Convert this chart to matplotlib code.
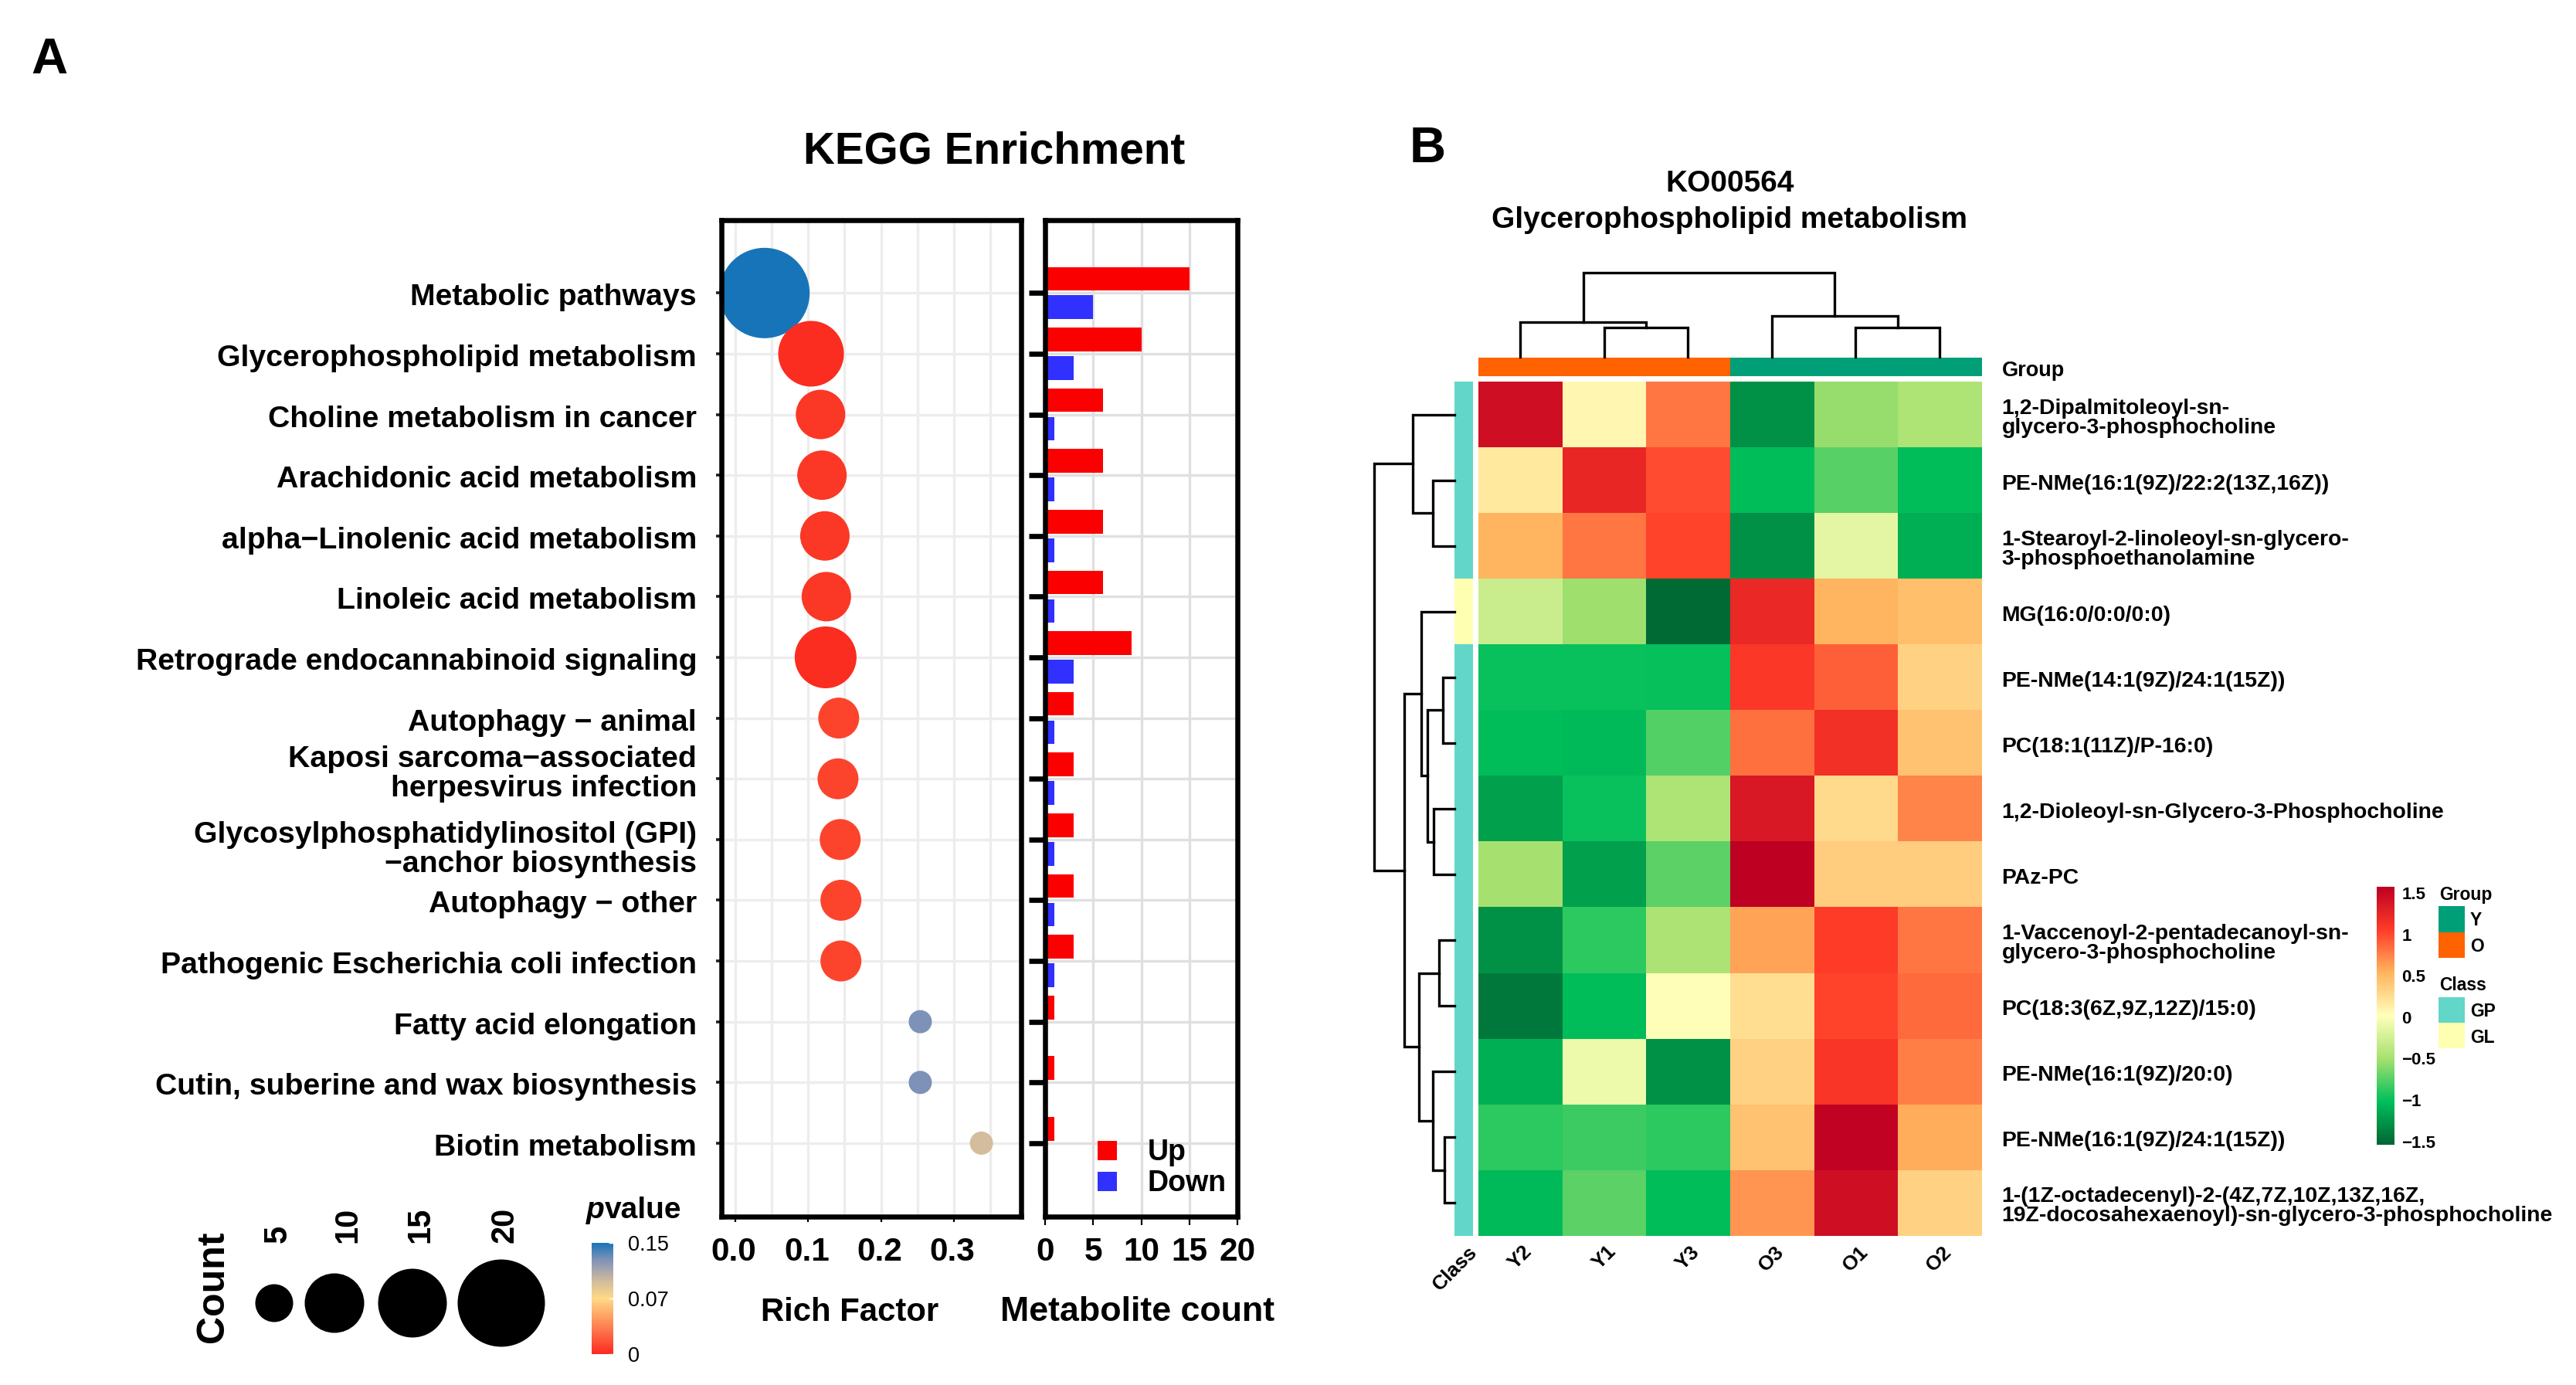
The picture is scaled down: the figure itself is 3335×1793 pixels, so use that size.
import numpy as np
import matplotlib
matplotlib.use("Agg")
import matplotlib.pyplot as plt
from matplotlib.colors import LinearSegmentedColormap, ListedColormap, Normalize
from matplotlib.cm import ScalarMappable
from matplotlib.patches import Rectangle
from matplotlib.transforms import ScaledTranslation

W, H = 3335, 1793

# --- panel A data
pathways = ['Metabolic pathways', 'Glycerophospholipid metabolism', 'Choline metabolism in cancer',
            'Arachidonic acid metabolism', 'alpha\u2212Linolenic acid metabolism', 'Linoleic acid metabolism',
            'Retrograde endocannabinoid signaling', 'Autophagy \u2212 animal',
            'Kaposi sarcoma\u2212associated\nherpesvirus infection',
            'Glycosylphosphatidylinositol (GPI)\n\u2212anchor biosynthesis', 'Autophagy \u2212 other',
            'Pathogenic Escherichia coli infection', 'Fatty acid elongation',
            'Cutin, suberine and wax biosynthesis', 'Biotin metabolism']
rich_factor = [0.040, 0.104, 0.117, 0.119, 0.123, 0.125, 0.124, 0.142, 0.141, 0.144, 0.145, 0.145, 0.254, 0.254, 0.338]
pvalue = [0.14, 0.001, 0.005, 0.005, 0.005, 0.005, 0.001, 0.01, 0.01, 0.01, 0.01, 0.01, 0.119, 0.119, 0.091]
up_count = [15, 10, 6, 6, 6, 6, 9, 3, 3, 3, 3, 3, 1, 1, 1]
down_count = [5, 3, 1, 1, 1, 1, 3, 1, 1, 1, 1, 1, 0, 0, 0]
rich_ticks = [0.0, 0.1, 0.2, 0.3]
count_ticks = [0, 5, 10, 15, 20]
legend_counts = [5, 10, 15, 20]

# --- panel B data
samples = ['Y2', 'Y1', 'Y3', 'O3', 'O1', 'O2']
metabolites = ['1,2-Dipalmitoleoyl-sn-\nglycero-3-phosphocholine', 'PE-NMe(16:1(9Z)/22:2(13Z,16Z))',
               '1-Stearoyl-2-linoleoyl-sn-glycero-\n3-phosphoethanolamine', 'MG(16:0/0:0/0:0)',
               'PE-NMe(14:1(9Z)/24:1(15Z))', 'PC(18:1(11Z)/P-16:0)', '1,2-Dioleoyl-sn-Glycero-3-Phosphocholine',
               'PAz-PC', '1-Vaccenoyl-2-pentadecanoyl-sn-\nglycero-3-phosphocholine', 'PC(18:3(6Z,9Z,12Z)/15:0)',
               'PE-NMe(16:1(9Z)/20:0)', 'PE-NMe(16:1(9Z)/24:1(15Z))',
               '1-(1Z-octadecenyl)-2-(4Z,7Z,10Z,13Z,16Z,\n19Z-docosahexaenoyl)-sn-glycero-3-phosphocholine']
heat_values = [
    [1.37, 0.05, 0.75, -1.25, -0.55, -0.45],
    [0.15, 1.17, 0.93, -1.00, -0.73, -1.00],
    [0.50, 0.75, 0.97, -1.25, -0.15, -1.08],
    [-0.30, -0.52, -1.47, 1.15, 0.50, 0.43],
    [-0.97, -0.97, -0.98, 1.03, 0.85, 0.30],
    [-1.00, -1.02, -0.74, 0.78, 1.10, 0.40],
    [-1.17, -0.97, -0.45, 1.30, 0.25, 0.70],
    [-0.50, -1.17, -0.72, 1.50, 0.33, 0.33],
    [-1.25, -0.86, -0.46, 0.57, 1.00, 0.75],
    [-1.39, -1.00, 0.00, 0.22, 0.97, 0.80],
    [-1.08, -0.10, -1.25, 0.30, 1.05, 0.72],
    [-0.86, -0.81, -0.86, 0.40, 1.47, 0.53],
    [-1.02, -0.72, -1.00, 0.63, 1.36, 0.30],
]
column_group = [1, 1, 1, 0, 0, 0]
row_class = [0, 0, 0, 1, 0, 0, 0, 0, 0, 0, 0, 0, 0]
heat_ticks = [-1.5, -1, -0.5, 0, 0.5, 1, 1.5]
heat_tick_labels = ['\u22121.5', '\u22121', '\u22120.5', '0', '0.5', '1', '1.5']

# dendrograms: (height, left, right), a leaf is the row or column index
row_tree = (104, (54.4, 0, (28.4, 1, 2)),
            (65, (43, 3, (35, (15.4, 4, 5), (27.3, 6, 7))),
             (46, (20, 8, 9), (28, 10, (13, 11, 12)))))
col_tree = (109, (45, 0, (38, 1, 2)), (53, 3, (38, 4, 5)))

plt.rcParams['font.family'] = ['Liberation Sans', 'DejaVu Sans']
plt.rcParams['font.weight'] = 'bold'

fig = plt.figure(figsize=(W / 100, H / 100), dpi=100, facecolor='white')


def px_axes(x0, y0, x1, y1):
    return fig.add_axes([x0 / W, 1 - y1 / H, (x1 - x0) / W, (y1 - y0) / H])


def px_text(x, y, s, size, ha='center', va='center', **kw):
    fig.text(x / W, 1 - y / H, s, fontsize=size, ha=ha, va=va, **kw)


def px_rect(x0, y0, x1, y1, color):
    fig.add_artist(Rectangle((x0 / W, 1 - y1 / H), (x1 - x0) / W, (y1 - y0) / H,
                             transform=fig.transFigure, facecolor=color, edgecolor='none'))


def nudge(labels, dx, dy):
    # shift tick labels by a few pixels, tick_params has no vertical pad for y labels
    for lab in labels:
        lab.set_transform(lab.get_transform() + ScaledTranslation(dx / 100, -dy / 100, fig.dpi_scale_trans))


def diameter_to_s(d):
    return (np.asarray(d) * 0.72) ** 2


def draw_tree(ax, node, horizontal):
    if isinstance(node, int):
        return node + 0.5, 0
    h, a, b = node
    pa, ha = draw_tree(ax, a, horizontal)
    pb, hb = draw_tree(ax, b, horizontal)
    pos = [pa, pa, pb, pb]
    hts = [ha, h, h, hb]
    if horizontal:
        ax.plot(hts, pos, color='black', lw=2.4, clip_on=False, solid_joinstyle='miter')
    else:
        ax.plot(pos, hts, color='black', lw=2.4, clip_on=False, solid_joinstyle='miter')
    return (pa + pb) / 2, h


# --- KEGG bubble panel
pval_cmap = LinearSegmentedColormap.from_list('pval', [(0, '#fb2b1f'), (0.5, '#ffd985'), (0.65, '#d3bd9c'),
                                                       (0.85, '#7f92b8'), (1, '#1874b8')])
pval_norm = Normalize(0, 0.14)
rows = np.arange(len(pathways))

# diameter in pixels for a given count
size_counts = [1, 4, 7, 12, 13, 20]
size_px = [30, 53, 64, 80, 85, 117]
point_counts = np.array(up_count) + np.array(down_count)

ax1 = px_axes(934, 285, 1321.5, 1575)
ax1.scatter(rich_factor, rows, s=diameter_to_s(np.interp(point_counts, size_counts, size_px)),
            c=pvalue, cmap=pval_cmap, norm=pval_norm, edgecolors='none', zorder=3, clip_on=False)
ax1.set_xlim(-0.0191, 0.392)
ax1.set_ylim(15.21, -1.2)
ax1.set_xticks(rich_ticks)
ax1.set_xticklabels(['%.1f' % t for t in rich_ticks], fontsize=30.5)
ax1.set_xticks(np.arange(0.05, 0.4, 0.1), minor=True)
ax1.set_yticks(rows)
ax1.set_yticklabels(pathways, fontsize=28.3, linespacing=1.08)
ax1.grid(True, which='both', color='#ededed', lw=2.4, zorder=0)
ax1.set_axisbelow(True)
ax1.tick_params(axis='y', length=5, width=2.6, color='#222222', pad=18)
ax1.tick_params(axis='x', which='major', length=5, width=1.6, pad=14)
ax1.tick_params(axis='x', which='minor', length=0)
nudge(ax1.get_xticklabels(), -2, 0)
pathway_labels = ax1.get_yticklabels()
nudge(pathway_labels[:8] + pathway_labels[10:], 0, 2)
nudge(pathway_labels[8:9], 0, -11)
nudge(pathway_labels[9:10], 0, 8)

# --- metabolite count panel
ax2 = px_axes(1353, 285, 1602, 1575)
ax2.barh(rows - 0.235, up_count, height=0.39, color='#fb0000', zorder=3)
ax2.barh(rows + 0.235, down_count, height=0.39, color='#3030ff', zorder=3)
ax2.set_xlim(0, 20)
ax2.set_ylim(15.21, -1.2)
ax2.set_xticks(count_ticks)
ax2.set_xticklabels([str(t) for t in count_ticks], fontsize=30.5)
ax2.set_yticks(rows)
ax2.set_yticklabels([])
ax2.grid(True, color='#e0e0e0', lw=2.4, zorder=0)
ax2.set_axisbelow(True)
ax2.tick_params(axis='y', length=15, width=4.8, color='black')
ax2.tick_params(axis='x', length=8, width=1.6, pad=11)

for ax in (ax1, ax2):
    for s in ax.spines.values():
        s.set_linewidth(4.7)
        s.set_zorder(5)

px_text(1287, 197, 'KEGG Enrichment', 40.8)
px_text(1100, 1699, 'Rich Factor', 30.2)
px_text(1473, 1699, 'Metabolite count', 32.2)

# up / down key
px_rect(1421, 1477, 1446, 1502, '#fb0000')
px_rect(1421, 1517, 1446, 1542, '#3030ff')
px_text(1486, 1492, 'Up', 27, ha='left')
px_text(1486, 1532, 'Down', 27, ha='left')

# count key
px_text(276, 1666, 'Count', 36, rotation=90)
key = px_axes(0, 1500, 800, 1793)
key.set_xlim(0, 800)
key.set_ylim(293, 0)
key.axis('off')
key.scatter([355, 433, 534, 649], [187] * 4, s=diameter_to_s([49, 77, 89, 113]), color='black',
            edgecolors='none', clip_on=False)
for cx, c in zip([360, 450, 544, 653], legend_counts):
    px_text(cx, 1609, str(c), 30, va='bottom', rotation=90)

# p value colour bar
px_text(783, 1567, 'p', 28, ha='right', style='italic')
px_text(783, 1567, 'value', 28, ha='left')
cax1 = px_axes(766, 1609, 794, 1753)
cb1 = fig.colorbar(ScalarMappable(norm=pval_norm, cmap=pval_cmap), cax=cax1)
cb1.outline.set_visible(False)
cb1.set_ticks([0, 0.07, 0.14])
cb1.set_ticklabels(['0', '0.07', '0.15'], fontsize=19.5, fontweight='normal')
cb1.ax.tick_params(length=4, width=1, color='white', direction='in', pad=14)

px_text(64, 78, 'A', 47)
px_text(1848, 193, 'B', 47)

# --- heatmap
heat_cmap = LinearSegmentedColormap.from_list('heat', [
    (0.0, '#006633'), (1 / 6, '#00bf5b'), (2 / 6, '#a6e16f'), (3 / 6, '#ffffbb'),
    (4 / 6, '#ffb55f'), (5 / 6, '#ff3c28'), (1.0, '#be0022')])
heat_norm = Normalize(-1.5, 1.5)
group_cmap = ListedColormap(['#009f78', '#ff6200'])
class_cmap = ListedColormap(['#62d6c8', '#feffb0'])

ax3 = px_axes(1914, 494, 2565, 1600)
ax3.imshow(heat_values, cmap=heat_cmap, norm=heat_norm, aspect='auto')
ax3.set_xticks(np.arange(len(samples)))
ax3.set_xticklabels(samples, fontsize=19, rotation=45, ha='center', va='top')
ax3.yaxis.tick_right()
ax3.set_yticks(np.arange(len(metabolites)))
ax3.set_yticklabels(metabolites, fontsize=20.4, linespacing=0.95)
ax3.tick_params(length=0)
ax3.tick_params(axis='y', pad=19)
ax3.tick_params(axis='x', pad=6)
nudge(ax3.get_yticklabels(), 0, 2)
for s in ax3.spines.values():
    s.set_visible(False)

ax4 = px_axes(1914, 463, 2565, 487)
ax4.imshow([column_group], cmap=group_cmap, vmin=0, vmax=1, aspect='auto')
ax4.set_xticks([])
ax4.yaxis.tick_right()
ax4.set_yticks([0])
ax4.set_yticklabels(['Group'], fontsize=19.5)
ax4.tick_params(length=0, pad=19)
nudge(ax4.get_yticklabels(), 0, 2)
for s in ax4.spines.values():
    s.set_visible(False)

ax5 = px_axes(1883, 494, 1907, 1600)
ax5.imshow(np.array(row_class).reshape(-1, 1), cmap=class_cmap, vmin=0, vmax=1, aspect='auto')
ax5.set_yticks([])
ax5.set_xticks([0])
ax5.set_xticklabels(['Class'], fontsize=19, rotation=45, ha='center', va='top')
ax5.tick_params(length=0, pad=6)
nudge(ax5.get_xticklabels(), -11, 0)
for s in ax5.spines.values():
    s.set_visible(False)

ax6 = px_axes(1914, 353, 2565, 462)
ax6.set_xlim(0, 6)
ax6.set_ylim(0, 109)
ax6.axis('off')
draw_tree(ax6, col_tree, False)

ax7 = px_axes(1779, 494, 1883, 1600)
ax7.set_xlim(104, 0)
ax7.set_ylim(13, 0)
ax7.axis('off')
draw_tree(ax7, row_tree, True)

px_text(2240, 238, 'KO00564', 28)
px_text(2239, 285, 'Glycerophospholipid metabolism', 28)

# heatmap colour bar and keys
cax2 = px_axes(3077, 1148, 3099.5, 1482)
cb2 = fig.colorbar(ScalarMappable(norm=Normalize(-1.55, 1.565), cmap=heat_cmap), cax=cax2)
cb2.outline.set_visible(False)
cb2.set_ticks(heat_ticks)
cb2.set_ticklabels(heat_tick_labels, fontsize=16)
cb2.ax.tick_params(length=0, pad=7)
nudge(cb2.ax.get_yticklabels(), 0, 1)

px_text(3158, 1159, 'Group', 16.5, ha='left')
px_rect(3157, 1173, 3191, 1207, '#009f78')
px_rect(3157, 1207, 3191, 1240, '#ff6200')
px_text(3198, 1192, 'Y', 16.5, ha='left')
px_text(3198, 1226, 'O', 16.5, ha='left')
px_text(3158, 1276, 'Class', 16.5, ha='left')
px_rect(3157, 1291, 3191, 1324, '#62d6c8')
px_rect(3157, 1324, 3191, 1357, '#feffb0')
px_text(3198, 1309, 'GP', 16.5, ha='left')
px_text(3198, 1343, 'GL', 16.5, ha='left')

fig.savefig('out.png', dpi=100, facecolor='white')
